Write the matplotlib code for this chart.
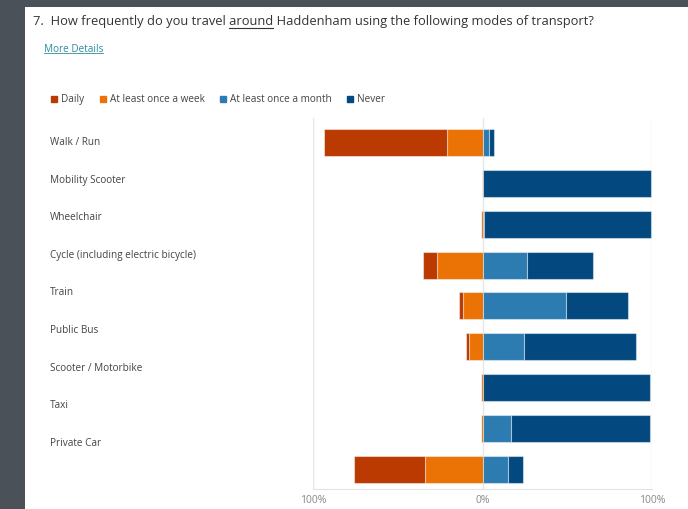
import matplotlib.pyplot as plt
import numpy as np
from matplotlib.patches import Rectangle
from matplotlib.lines import Line2D

plt.rcParams['font.family'] = ['Open Sans', 'DejaVu Sans']

modes = ['Walk / Run', 'Mobility Scooter', 'Wheelchair', 'Cycle (including electric bicycle)',
         'Train', 'Public Bus', 'Scooter / Motorbike', 'Taxi', 'Private Car']
daily   = [72.0, 0.0, 0.0, 7.9, 2.8, 1.8, 0.0, 0.0, 41.9]
weekly  = [21.4, 0.6, 0.8, 27.3, 11.4, 7.9, 1.1, 1.2, 34.2]
monthly = [3.9, 0.0, 1.0, 25.8, 48.8, 24.2, 0.0, 16.7, 15.1]
never   = [2.7, 99.4, 98.2, 39.0, 37.0, 66.1, 98.9, 82.1, 8.8]
series = ['Daily', 'At least once a week', 'At least once a month', 'Never']
colours = ['#bb3a02', '#eb7205', '#2c7bb1', '#03497f']

W, H = 688, 509
fig = plt.figure(figsize=(W / 100, H / 100), dpi=100, facecolor='#4a5159')

def fx(px):
    return px / W

def fy(py):
    return 1 - py / H

# white card
fig.patches.append(Rectangle((fx(25), 0), 1 - fx(25), fy(7), transform=fig.transFigure,
                             facecolor='white', edgecolor='none', zorder=-5))

tsize = 9.3
title = '7.  How frequently do you travel around Haddenham using the following modes of transport?'
fig.text(fx(33), fy(25), title, fontsize=tsize, color='#333333', va='baseline')
# underline the word "around"
fig.canvas.draw()
r = fig.canvas.get_renderer()
pre = fig.text(fx(33), fy(25), '7.  How frequently do you travel ', fontsize=tsize, alpha=0)
word = fig.text(fx(33), fy(25), '7.  How frequently do you travel around', fontsize=tsize, alpha=0)
x0 = pre.get_window_extent(r).x1
x1 = word.get_window_extent(r).x1
fig.lines.append(Line2D([x0 / W, x1 / W], [fy(27.5), fy(27.5)], transform=fig.transFigure,
                        color='#333333', lw=0.8))

link = fig.text(fx(44), fy(51.5), 'More Details', fontsize=7.2, color='#2e8b9f', va='baseline')
lb = link.get_window_extent(r)
fig.lines.append(Line2D([lb.x0 / W, lb.x1 / W], [fy(53.5), fy(53.5)], transform=fig.transFigure,
                        color='#2e8b9f', lw=0.6))

# legend
handles = [Line2D([], [], marker='s', ls='none', markersize=5, color=c) for c in colours]
fig.legend(handles, series, ncol=4, loc='center left', bbox_to_anchor=(fx(50), fy(99.5)),
           frameon=False, fontsize=7.2, handlelength=0.8, handletextpad=0.3,
           columnspacing=1.45, labelcolor='#444444', borderaxespad=0, borderpad=0)

# category labels
for i, m in enumerate(modes):
    fig.text(fx(50), fy(142.5 + i * 37.6), m, fontsize=7.2, color='#444444', va='center')

ax = fig.add_axes([fx(313.3), fy(489), fx(652.3) - fx(313.3), fy(118) - fy(489)])
y = np.arange(len(modes))
d = np.array(daily); w = np.array(weekly); mo = np.array(monthly); n = np.array(never)
kw = dict(height=0.66, edgecolor=(1, 1, 1, 0.45), linewidth=0.8, zorder=3)
ax.barh(y, -w, color=colours[1], **kw)
ax.barh(y, -d, left=-w, color=colours[0], **kw)
ax.barh(y, mo, color=colours[2], **kw)
ax.barh(y, n, left=mo, color=colours[3], **kw)

ax.set_xlim(-100, 100)
ax.set_ylim(len(modes) - 0.52, -0.6)
ax.set_xticks([-100, 0, 100])
ax.set_xticklabels(['100%', '0%', '100%'])
ax.tick_params(axis='x', length=0, labelsize=7.5, labelcolor='#888888', pad=4)
ax.set_yticks([])
ax.grid(axis='x', color='#e6e6e6', lw=1, zorder=0)
for s in ['top', 'left', 'right']:
    ax.spines[s].set_visible(False)
ax.spines['bottom'].set_color('#e3e3e3')
ax.set_facecolor('none')

fig.savefig('out.png', dpi=100, facecolor=fig.get_facecolor())
